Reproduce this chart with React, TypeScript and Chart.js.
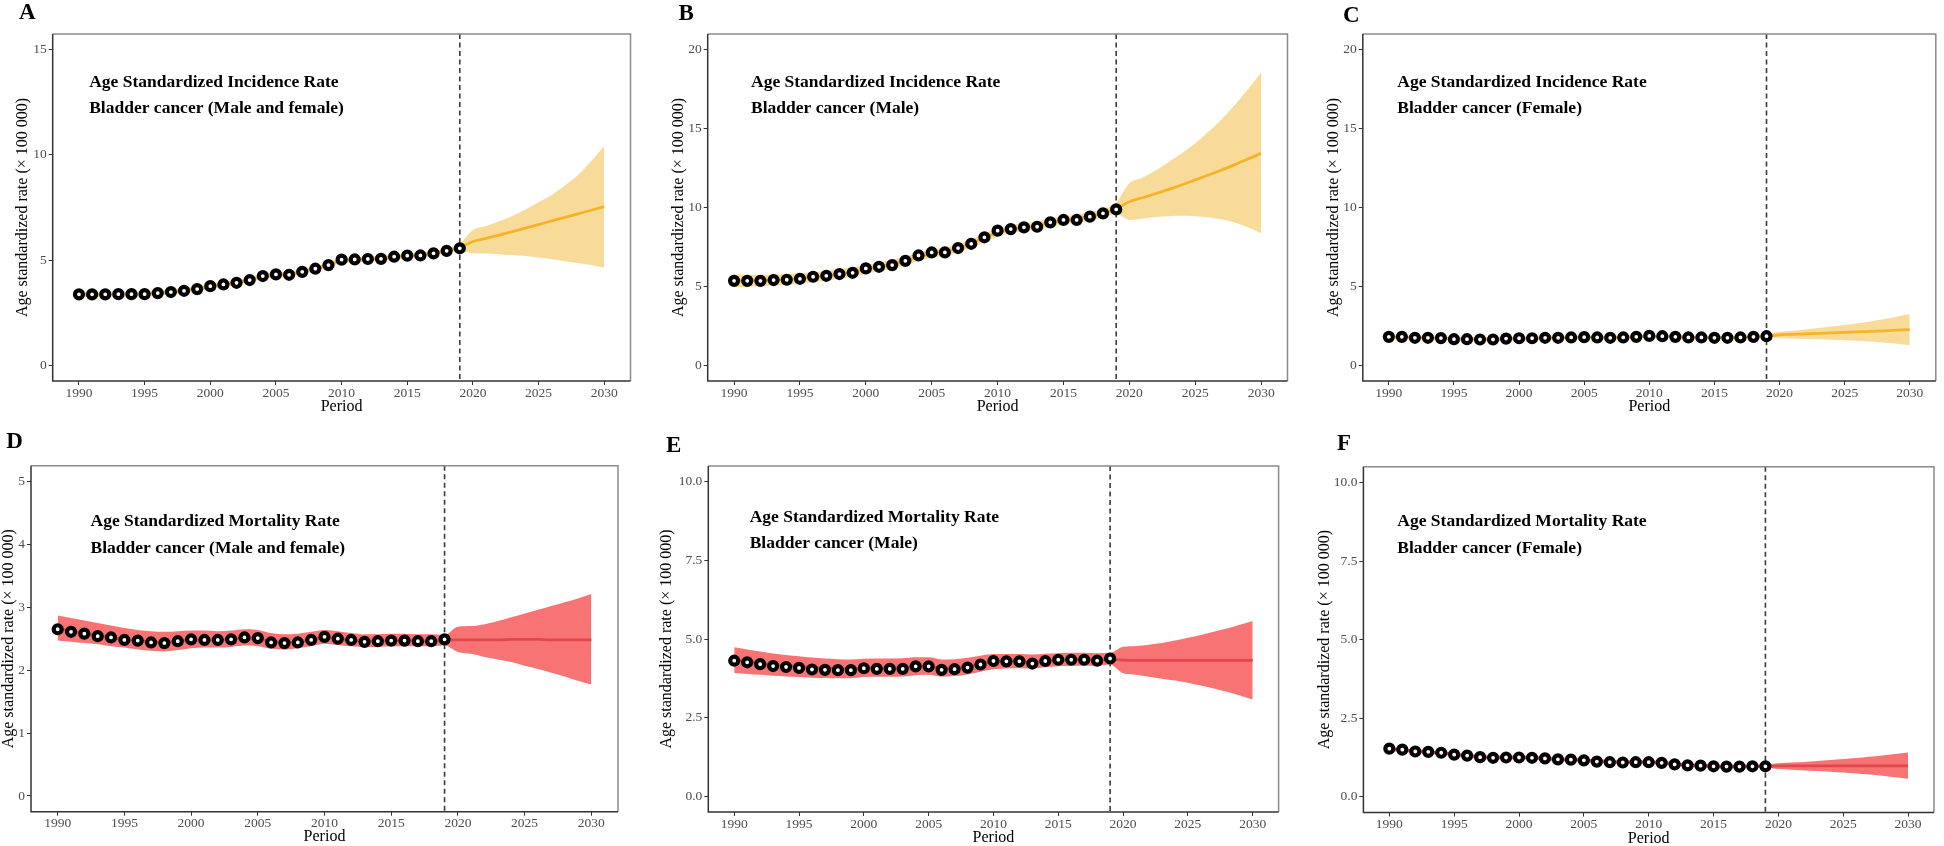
import React, { useEffect, useRef } from "react";
import { Chart, registerables } from "chart.js";

Chart.register(...registerables);
Chart.defaults.font.family = '"Liberation Serif", "Times New Roman", serif';

// ---------------- data ----------------
const YEARS = [1990, 1991, 1992, 1993, 1994, 1995, 1996, 1997, 1998, 1999, 2000, 2001, 2002, 2003, 2004, 2005, 2006, 2007, 2008, 2009, 2010, 2011, 2012, 2013, 2014, 2015, 2016, 2017, 2018, 2019, 2020, 2021, 2022, 2023, 2024, 2025, 2026, 2027, 2028, 2029, 2030];
const CUTOFF_YEAR = 2019;
const X_TICKS = [1990, 1995, 2000, 2005, 2010, 2015, 2020, 2025, 2030];
const Y_TICKS_A = [0, 5, 10, 15];
const Y_TICKS_BC = [0, 5, 10, 15, 20];
const Y_TICKS_D = [0, 1, 2, 3, 4, 5];
const Y_TICKS_EF = [0, 2.5, 5, 7.5, 10];

const OBS_A = [3.37, 3.37, 3.37, 3.38, 3.38, 3.38, 3.43, 3.48, 3.54, 3.62, 3.76, 3.84, 3.92, 4.05, 4.24, 4.32, 4.30, 4.44, 4.59, 4.76, 5.02, 5.03, 5.05, 5.06, 5.16, 5.21, 5.22, 5.32, 5.44, 5.56];
const FIT_A = [3.37, 3.37, 3.37, 3.38, 3.38, 3.39, 3.43, 3.48, 3.55, 3.63, 3.75, 3.84, 3.93, 4.06, 4.22, 4.30, 4.33, 4.44, 4.59, 4.78, 4.97, 5.02, 5.05, 5.08, 5.15, 5.20, 5.24, 5.32, 5.44, 5.60, 5.88, 6.03, 6.19, 6.35, 6.52, 6.69, 6.86, 7.03, 7.20, 7.37, 7.54];
const LOW_A = [3.25, 3.25, 3.25, 3.26, 3.26, 3.27, 3.31, 3.36, 3.43, 3.51, 3.63, 3.72, 3.81, 3.94, 4.10, 4.18, 4.21, 4.32, 4.47, 4.66, 4.85, 4.90, 4.93, 4.96, 5.03, 5.08, 5.12, 5.20, 5.32, 5.45, 5.32, 5.31, 5.28, 5.24, 5.19, 5.12, 5.04, 4.95, 4.86, 4.76, 4.65];
const UP_A = [3.49, 3.49, 3.49, 3.50, 3.50, 3.51, 3.55, 3.60, 3.67, 3.75, 3.87, 3.96, 4.05, 4.18, 4.34, 4.42, 4.45, 4.56, 4.71, 4.90, 5.09, 5.14, 5.17, 5.20, 5.27, 5.32, 5.36, 5.44, 5.56, 5.78, 6.43, 6.62, 6.85, 7.10, 7.40, 7.75, 8.10, 8.55, 9.05, 9.70, 10.43];

const OBS_B = [5.35, 5.35, 5.35, 5.40, 5.42, 5.48, 5.61, 5.67, 5.78, 5.86, 6.14, 6.24, 6.35, 6.62, 6.96, 7.15, 7.15, 7.43, 7.70, 8.11, 8.53, 8.63, 8.74, 8.78, 9.06, 9.21, 9.21, 9.42, 9.63, 9.88];
const FIT_B = [5.35, 5.36, 5.37, 5.40, 5.44, 5.50, 5.58, 5.67, 5.78, 5.92, 6.08, 6.24, 6.40, 6.62, 6.88, 7.08, 7.20, 7.42, 7.72, 8.08, 8.42, 8.62, 8.74, 8.86, 9.03, 9.18, 9.28, 9.43, 9.63, 9.90, 10.37, 10.62, 10.88, 11.15, 11.44, 11.75, 12.06, 12.38, 12.72, 13.07, 13.44];
const LOW_B = [4.95, 4.98, 5.01, 5.05, 5.10, 5.17, 5.26, 5.36, 5.48, 5.62, 5.79, 5.96, 6.12, 6.35, 6.61, 6.82, 6.94, 7.16, 7.46, 7.82, 8.16, 8.36, 8.48, 8.60, 8.77, 8.92, 9.02, 9.16, 9.36, 9.60, 9.21, 9.30, 9.40, 9.45, 9.47, 9.45, 9.38, 9.25, 9.05, 8.75, 8.36];
const UP_B = [5.75, 5.74, 5.73, 5.75, 5.78, 5.83, 5.90, 5.98, 6.08, 6.22, 6.37, 6.52, 6.68, 6.89, 7.15, 7.34, 7.46, 7.68, 7.98, 8.34, 8.68, 8.88, 9.00, 9.12, 9.29, 9.44, 9.54, 9.70, 9.90, 10.30, 11.53, 11.90, 12.35, 12.90, 13.45, 14.07, 14.80, 15.60, 16.50, 17.50, 18.56];

const OBS_C = [1.80, 1.80, 1.74, 1.74, 1.72, 1.65, 1.65, 1.63, 1.63, 1.69, 1.71, 1.71, 1.74, 1.74, 1.76, 1.78, 1.76, 1.74, 1.76, 1.80, 1.86, 1.84, 1.80, 1.76, 1.76, 1.74, 1.74, 1.76, 1.80, 1.84];
const FIT_C = [1.79, 1.78, 1.76, 1.74, 1.71, 1.68, 1.66, 1.65, 1.65, 1.67, 1.69, 1.71, 1.73, 1.74, 1.76, 1.77, 1.76, 1.76, 1.77, 1.80, 1.83, 1.83, 1.80, 1.77, 1.76, 1.75, 1.75, 1.77, 1.80, 1.84, 1.93, 1.96, 1.99, 2.02, 2.05, 2.08, 2.11, 2.15, 2.18, 2.22, 2.26];
const LOW_C = [1.71, 1.70, 1.68, 1.66, 1.63, 1.60, 1.58, 1.57, 1.57, 1.59, 1.61, 1.63, 1.65, 1.66, 1.68, 1.69, 1.68, 1.68, 1.69, 1.72, 1.75, 1.75, 1.72, 1.69, 1.68, 1.67, 1.67, 1.69, 1.72, 1.76, 1.72, 1.70, 1.68, 1.65, 1.62, 1.59, 1.55, 1.50, 1.44, 1.36, 1.27];
const UP_C = [1.87, 1.86, 1.84, 1.82, 1.79, 1.76, 1.74, 1.73, 1.73, 1.75, 1.77, 1.79, 1.81, 1.82, 1.84, 1.85, 1.84, 1.84, 1.85, 1.88, 1.91, 1.91, 1.88, 1.85, 1.84, 1.83, 1.83, 1.85, 1.88, 1.95, 2.12, 2.19, 2.27, 2.36, 2.45, 2.55, 2.66, 2.78, 2.91, 3.07, 3.24];

const OBS_D = [2.65, 2.61, 2.58, 2.54, 2.52, 2.48, 2.47, 2.44, 2.43, 2.46, 2.49, 2.48, 2.48, 2.49, 2.52, 2.51, 2.44, 2.43, 2.44, 2.48, 2.53, 2.50, 2.48, 2.45, 2.46, 2.47, 2.47, 2.46, 2.46, 2.49];
const FIT_D = [2.66, 2.62, 2.58, 2.55, 2.52, 2.49, 2.47, 2.45, 2.44, 2.46, 2.48, 2.48, 2.48, 2.49, 2.51, 2.50, 2.46, 2.44, 2.45, 2.48, 2.52, 2.50, 2.48, 2.46, 2.46, 2.47, 2.47, 2.46, 2.46, 2.48, 2.48, 2.48, 2.48, 2.48, 2.49, 2.49, 2.49, 2.48, 2.48, 2.48, 2.48];
const LOW_D = [2.47, 2.45, 2.43, 2.41, 2.38, 2.36, 2.33, 2.31, 2.30, 2.32, 2.35, 2.36, 2.36, 2.37, 2.39, 2.38, 2.34, 2.33, 2.35, 2.38, 2.42, 2.40, 2.38, 2.37, 2.37, 2.38, 2.38, 2.38, 2.38, 2.39, 2.29, 2.26, 2.21, 2.17, 2.13, 2.07, 2.02, 1.96, 1.90, 1.83, 1.77];
const UP_D = [2.87, 2.83, 2.79, 2.75, 2.71, 2.67, 2.64, 2.62, 2.61, 2.62, 2.63, 2.63, 2.62, 2.63, 2.65, 2.64, 2.59, 2.57, 2.58, 2.61, 2.64, 2.62, 2.59, 2.57, 2.57, 2.58, 2.58, 2.57, 2.57, 2.56, 2.69, 2.70, 2.73, 2.78, 2.84, 2.90, 2.96, 3.02, 3.08, 3.14, 3.21];

const OBS_E = [4.31, 4.26, 4.20, 4.14, 4.11, 4.08, 4.03, 4.02, 4.01, 4.01, 4.07, 4.05, 4.05, 4.05, 4.13, 4.13, 4.02, 4.04, 4.09, 4.19, 4.30, 4.29, 4.29, 4.22, 4.30, 4.34, 4.34, 4.34, 4.31, 4.38];
const FIT_E = [4.33, 4.28, 4.23, 4.18, 4.15, 4.12, 4.09, 4.07, 4.06, 4.05, 4.07, 4.07, 4.07, 4.08, 4.12, 4.12, 4.07, 4.08, 4.12, 4.20, 4.28, 4.29, 4.28, 4.26, 4.29, 4.33, 4.34, 4.34, 4.33, 4.36, 4.33, 4.32, 4.32, 4.32, 4.32, 4.32, 4.32, 4.32, 4.32, 4.32, 4.32];
const LOW_E = [3.92, 3.89, 3.86, 3.83, 3.81, 3.79, 3.77, 3.76, 3.75, 3.75, 3.79, 3.80, 3.80, 3.81, 3.85, 3.86, 3.80, 3.82, 3.87, 3.96, 4.04, 4.06, 4.07, 4.06, 4.10, 4.13, 4.14, 4.15, 4.15, 4.19, 3.91, 3.86, 3.80, 3.74, 3.68, 3.61, 3.52, 3.43, 3.32, 3.20, 3.08];
const UP_E = [4.74, 4.67, 4.60, 4.54, 4.49, 4.45, 4.41, 4.38, 4.36, 4.35, 4.37, 4.38, 4.38, 4.39, 4.42, 4.42, 4.35, 4.36, 4.40, 4.47, 4.52, 4.52, 4.52, 4.51, 4.53, 4.55, 4.56, 4.56, 4.55, 4.56, 4.75, 4.78, 4.82, 4.87, 4.95, 5.04, 5.13, 5.23, 5.33, 5.45, 5.57];

const OBS_F = [1.53, 1.50, 1.44, 1.43, 1.40, 1.34, 1.31, 1.26, 1.24, 1.25, 1.25, 1.24, 1.22, 1.19, 1.18, 1.16, 1.12, 1.10, 1.09, 1.10, 1.10, 1.08, 1.03, 1.00, 0.99, 0.97, 0.96, 0.96, 0.97, 0.97];
const FIT_F = [1.52, 1.49, 1.45, 1.42, 1.39, 1.35, 1.31, 1.27, 1.25, 1.25, 1.25, 1.24, 1.22, 1.19, 1.18, 1.16, 1.13, 1.11, 1.10, 1.10, 1.10, 1.08, 1.04, 1.01, 0.99, 0.97, 0.96, 0.96, 0.97, 0.97, 0.98, 0.98, 0.98, 0.98, 0.98, 0.98, 0.98, 0.98, 0.98, 0.98, 0.98];
const LOW_F = [1.46, 1.43, 1.39, 1.36, 1.33, 1.29, 1.25, 1.21, 1.19, 1.19, 1.19, 1.18, 1.16, 1.13, 1.12, 1.10, 1.07, 1.05, 1.04, 1.04, 1.04, 1.02, 0.98, 0.95, 0.93, 0.91, 0.90, 0.90, 0.91, 0.92, 0.88, 0.86, 0.84, 0.82, 0.80, 0.77, 0.74, 0.71, 0.67, 0.62, 0.57];
const UP_F = [1.58, 1.55, 1.51, 1.48, 1.45, 1.41, 1.37, 1.33, 1.31, 1.31, 1.31, 1.30, 1.28, 1.25, 1.24, 1.22, 1.19, 1.17, 1.16, 1.16, 1.16, 1.14, 1.10, 1.07, 1.05, 1.03, 1.02, 1.02, 1.03, 1.03, 1.07, 1.09, 1.11, 1.14, 1.17, 1.20, 1.23, 1.27, 1.31, 1.36, 1.41];

const TITLE_INC = "Age Standardized Incidence Rate";
const TITLE_MORT = "Age Standardized Mortality Rate";
const SUB_BOTH = "Bladder cancer (Male and female)";
const SUB_MALE = "Bladder cancer (Male)";
const SUB_FEMALE = "Bladder cancer (Female)";
const Y_TITLE = "Age standardized rate (\u00d7 100 000)";
const X_TITLE = "Period";

// ---------------- styles / layout ----------------
const SCHEMES: Record<string, { line: string; band: string }> = {
  orange: { line: "#F5B32A", band: "rgba(243, 187, 70, 0.55)" },
  red: { line: "#E1474C", band: "#F87474" },
};

type Layout = {
  cl: number; ct: number; cw: number; ch: number;
  bl: number; br: number; bt: number; bb: number;
  yTitleX: number; xTitleY: number;
  textX: number; base1: number; base2: number;
  letterX: number; letterBase: number;
};

type PanelDef = {
  letter: string; line1: string; line2: string;
  obs: number[]; fit: number[]; lower: number[]; upper: number[];
  yMin: number; yMax: number; yTicks: number[]; decimals: number;
  scheme: string; layout: Layout;
};

const PANELS: PanelDef[] = [
  { letter: "A", line1: TITLE_INC, line2: SUB_BOTH, obs: OBS_A, fit: FIT_A, lower: LOW_A, upper: UP_A,
    yMin: -0.75, yMax: 15.75, yTicks: Y_TICKS_A, decimals: 0, scheme: "orange",
    layout: { cl: 0, ct: 0, cw: 650, ch: 420, bl: 52.7, br: 630.5, bt: 34, bb: 381, yTitleX: 23.1, xTitleY: 406.7, textX: 89.2, base1: 87.3, base2: 113.3, letterX: 19, letterBase: 18.5 } },
  { letter: "B", line1: TITLE_INC, line2: SUB_MALE, obs: OBS_B, fit: FIT_B, lower: LOW_B, upper: UP_B,
    yMin: -1, yMax: 21, yTicks: Y_TICKS_BC, decimals: 0, scheme: "orange",
    layout: { cl: 650, ct: 0, cw: 650, ch: 420, bl: 707.7, br: 1287.5, bt: 34, bb: 381, yTitleX: 678.6, xTitleY: 406.7, textX: 751, base1: 87.3, base2: 113.3, letterX: 678.6, letterBase: 19.5 } },
  { letter: "C", line1: TITLE_INC, line2: SUB_FEMALE, obs: OBS_C, fit: FIT_C, lower: LOW_C, upper: UP_C,
    yMin: -1, yMax: 21, yTicks: Y_TICKS_BC, decimals: 0, scheme: "orange",
    layout: { cl: 1300, ct: 0, cw: 644, ch: 420, bl: 1362.8, br: 1942.2, bt: 34, bb: 381, yTitleX: 1333.7, xTitleY: 406.7, textX: 1397.3, base1: 87.3, base2: 113.3, letterX: 1343, letterBase: 21.5 } },
  { letter: "D", line1: TITLE_MORT, line2: SUB_BOTH, obs: OBS_D, fit: FIT_D, lower: LOW_D, upper: UP_D,
    yMin: -0.25, yMax: 5.25, yTicks: Y_TICKS_D, decimals: 0, scheme: "red",
    layout: { cl: 0, ct: 420, cw: 650, ch: 426, bl: 31, br: 618, bt: 465.7, bb: 811.7, yTitleX: 8.6, xTitleY: 836.7, textX: 90.5, base1: 526, base2: 552.7, letterX: 6.3, letterBase: 448.3 } },
  { letter: "E", line1: TITLE_MORT, line2: SUB_MALE, obs: OBS_E, fit: FIT_E, lower: LOW_E, upper: UP_E,
    yMin: -0.5, yMax: 10.5, yTicks: Y_TICKS_EF, decimals: 1, scheme: "red",
    layout: { cl: 650, ct: 420, cw: 650, ch: 426, bl: 708.3, br: 1278.6, bt: 466, bb: 812, yTitleX: 666.8, xTitleY: 837.5, textX: 749.7, base1: 521.7, base2: 548.3, letterX: 666, letterBase: 451.7 } },
  { letter: "F", line1: TITLE_MORT, line2: SUB_FEMALE, obs: OBS_F, fit: FIT_F, lower: LOW_F, upper: UP_F,
    yMin: -0.5, yMax: 10.5, yTicks: Y_TICKS_EF, decimals: 1, scheme: "red",
    layout: { cl: 1300, ct: 420, cw: 644, ch: 426, bl: 1363.4, br: 1934, bt: 466.7, bb: 812.5, yTitleX: 1324.6, xTitleY: 839, textX: 1397.3, base1: 526, base2: 552.7, letterX: 1337, letterBase: 450 } },
];

const TITLE_LH = 16 * 1.2;

function Panel({ def }: { def: PanelDef }) {
  const ref = useRef<HTMLCanvasElement | null>(null);
  const L = def.layout;

  useEffect(() => {
    const canvas = ref.current;
    if (!canvas) return;
    const colors = SCHEMES[def.scheme];
    const pts = (arr: number[]) => arr.map((v, i) => ({ x: YEARS[i], y: v }));

    const decor = {
      id: "decor" + def.letter,
      beforeDatasetsDraw(chart: any) {
        const { ctx, chartArea } = chart;
        const x = chart.scales.x.getPixelForValue(CUTOFF_YEAR);
        ctx.save();
        ctx.strokeStyle = "#3a3a3a";
        ctx.lineWidth = 1.6;
        ctx.setLineDash([5, 3.5]);
        ctx.beginPath();
        ctx.moveTo(x, chartArea.top);
        ctx.lineTo(x, chartArea.bottom);
        ctx.stroke();
        ctx.restore();
      },
      afterDraw(chart: any) {
        const { ctx, chartArea: a } = chart;
        ctx.save();
        // panel border
        ctx.lineWidth = 1.5;
        ctx.strokeStyle = "#8a8a8a";
        ctx.beginPath();
        ctx.moveTo(a.left, a.top);
        ctx.lineTo(a.right, a.top);
        ctx.lineTo(a.right, a.bottom);
        ctx.stroke();
        ctx.strokeStyle = "#333333";
        ctx.beginPath();
        ctx.moveTo(a.left, a.top);
        ctx.lineTo(a.left, a.bottom);
        ctx.lineTo(a.right, a.bottom);
        ctx.stroke();
        // annotation
        ctx.fillStyle = "#000";
        ctx.textBaseline = "alphabetic";
        ctx.textAlign = "left";
        ctx.font = 'bold 17.5px "Liberation Serif", serif';
        ctx.fillText(def.line1, L.textX - L.cl, L.base1 - L.ct);
        ctx.fillText(def.line2, L.textX - L.cl, L.base2 - L.ct);
        // panel letter
        ctx.font = 'bold 23px "Liberation Serif", serif';
        ctx.fillText(def.letter, L.letterX - L.cl, L.letterBase - L.ct);
        ctx.restore();
      },
    };

    const chart = new Chart(canvas, {
      type: "line",
      data: {
        datasets: [
          {
            label: "observed",
            data: pts(def.obs),
            showLine: false,
            pointRadius: 4,
            pointHoverRadius: 4,
            pointBorderWidth: 4.2,
            pointBackgroundColor: "#ffffff",
            pointBorderColor: "#000000",
            borderColor: "#000000",
            backgroundColor: "#ffffff",
          },
          {
            label: "fit",
            data: pts(def.fit),
            borderColor: colors.line,
            borderWidth: 2.8,
            pointRadius: 0,
            fill: false,
            cubicInterpolationMode: "monotone",
          },
          {
            label: "lower",
            data: pts(def.lower),
            borderColor: "rgba(0,0,0,0)",
            borderWidth: 1,
            pointRadius: 0,
            fill: false,
            cubicInterpolationMode: "monotone",
          },
          {
            label: "upper",
            data: pts(def.upper),
            borderColor: "rgba(0,0,0,0)",
            borderWidth: 1,
            pointRadius: 0,
            fill: "-1",
            backgroundColor: colors.band,
            cubicInterpolationMode: "monotone",
          },
        ],
      } as any,
      options: {
        responsive: false,
        animation: false,
        events: [],
        layout: {
          padding: {
            left: 0,
            top: L.bt - L.ct,
            right: L.cl + L.cw - L.br,
            bottom: 0,
          },
        },
        plugins: {
          legend: { display: false },
          tooltip: { enabled: false },
          title: { display: false },
        },
        scales: {
          x: {
            type: "linear",
            min: 1988,
            max: 2032,
            afterBuildTicks: (s: any) => {
              s.ticks = X_TICKS.map((v) => ({ value: v }));
            },
            afterFit: (s: any) => {
              s.height = L.ct + L.ch - L.bb;
            },
            ticks: {
              color: "#4d4d4d",
              font: { size: 13.5 },
              padding: 0,
              maxRotation: 0,
              autoSkip: false,
              callback: (v: any) => String(v),
            },
            grid: { drawOnChartArea: false, drawTicks: true, tickLength: 4, color: "#333333", lineWidth: 1 },
            border: { display: false },
            title: {
              display: true,
              text: X_TITLE,
              color: "#000",
              font: { size: 16 },
              padding: { top: 0, bottom: L.ct + L.ch - TITLE_LH / 2 - L.xTitleY },
            },
          },
          y: {
            type: "linear",
            min: def.yMin,
            max: def.yMax,
            afterBuildTicks: (s: any) => {
              s.ticks = def.yTicks.map((v) => ({ value: v }));
            },
            afterFit: (s: any) => {
              s.width = L.bl - L.cl;
            },
            ticks: {
              color: "#4d4d4d",
              font: { size: 13.5 },
              padding: 2,
              autoSkip: false,
              callback: (v: any) => Number(v).toFixed(def.decimals),
            },
            grid: { drawOnChartArea: false, drawTicks: true, tickLength: 4, color: "#333333", lineWidth: 1 },
            border: { display: false },
            title: {
              display: true,
              text: Y_TITLE,
              color: "#000",
              font: { size: 16 },
              padding: { top: L.yTitleX - L.cl - TITLE_LH / 2, bottom: 0 },
            },
          },
        },
      } as any,
      plugins: [decor],
    });
    return () => chart.destroy();
  }, [def]);

  return (
    <canvas
      ref={ref}
      width={L.cw}
      height={L.ch}
      style={{ position: "absolute", left: L.cl, top: L.ct, width: L.cw, height: L.ch }}
    />
  );
}

export default function App() {
  return (
    <div
      style={{
        position: "fixed",
        left: 0,
        top: 0,
        width: 1944,
        height: 846,
        background: "#ffffff",
        overflow: "hidden",
      }}
    >
      {PANELS.map((p) => (
        <Panel key={p.letter} def={p} />
      ))}
    </div>
  );
}
